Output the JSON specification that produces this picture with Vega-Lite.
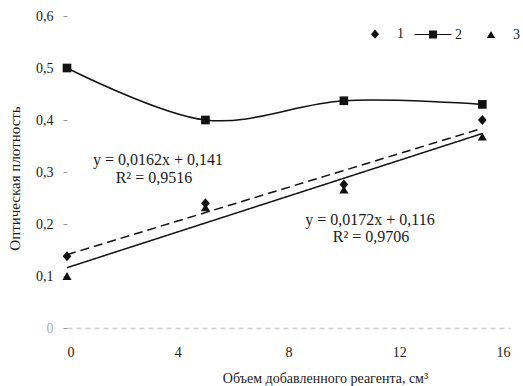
{
  "$schema": "https://vega.github.io/schema/vega-lite/v6.json",
  "width": 443,
  "height": 312,
  "autosize": "none",
  "padding": {"left": 67, "top": 16, "right": 13, "bottom": 58},
  "background": "white",
  "config": {
    "view": {"stroke": null},
    "font": "'Liberation Serif', 'Times New Roman', serif",
    "axis": {"labelFont": "'Liberation Serif', 'Times New Roman', serif", "titleFont": "'Liberation Serif', 'Times New Roman', serif", "grid": false},
    "legend": {"labelFont": "'Liberation Serif', 'Times New Roman', serif"},
    "text": {"font": "'Liberation Serif', 'Times New Roman', serif"}
  },
  "datasets": {
    "pts": [
      {"x": 0, "y": 0.138, "s": "1"},
      {"x": 5, "y": 0.24, "s": "1"},
      {"x": 10, "y": 0.276, "s": "1"},
      {"x": 15, "y": 0.40, "s": "1"},
      {"x": 0, "y": 0.5, "s": "2"},
      {"x": 5, "y": 0.40, "s": "2"},
      {"x": 10, "y": 0.437, "s": "2"},
      {"x": 15, "y": 0.43, "s": "2"},
      {"x": 0, "y": 0.1, "s": "3"},
      {"x": 5, "y": 0.232, "s": "3"},
      {"x": 10, "y": 0.266, "s": "3"},
      {"x": 15, "y": 0.368, "s": "3"}
    ],
    "fits": [
      {"x": 0, "y": 0.141, "fit": "1"},
      {"x": 15, "y": 0.384, "fit": "1"},
      {"x": 0, "y": 0.116, "fit": "3"},
      {"x": 15, "y": 0.374, "fit": "3"}
    ],
    "notes": [
      {"x": 3.29, "y": 0.323, "label": "y = 0,0162x + 0,141"},
      {"x": 3.14, "y": 0.288, "label": "R² = 0,9516"},
      {"x": 10.94, "y": 0.2077, "label": "y = 0,0172x + 0,116"},
      {"x": 10.98, "y": 0.175, "label": "R² = 0,9706"}
    ]
  },
  "encoding": {
    "x": {
      "field": "x", "type": "quantitative",
      "scale": {"domain": [0, 16], "nice": false, "zero": false},
      "axis": {
        "values": [0, 4, 8, 12, 16],
        "domain": true, "domainColor": "#cfcfcf", "domainDash": [5, 4], "domainWidth": 1.5,
        "ticks": false, "labelPadding": 17, "labelFontSize": 14, "labelColor": "#1a1a1a",
        "title": "Объем добавленного реагента, см³", "titleFontSize": 14, "titleFontWeight": "normal",
        "titleColor": "#1a1a1a", "titleX": 258, "titleY": 54, "titleBaseline": "alphabetic", "titleAlign": "center"
      }
    },
    "y": {
      "field": "y", "type": "quantitative",
      "scale": {"domain": [0, 0.6], "nice": false},
      "axis": {
        "values": [0, 0.1, 0.2, 0.3, 0.4, 0.5, 0.6],
        "domain": false, "ticks": true, "tickSize": 4, "tickColor": "#999",
        "labelPadding": 10, "labelFontSize": 14,
        "labelColor": {"condition": {"test": "datum.value == 0", "value": "#b0b0b0"}, "value": "#1a1a1a"},
        "labelExpr": "datum.value == 0 ? '0' : replace(format(datum.value, '.1f'), '.', ',')",
        "title": "Оптическая плотность", "titleFontSize": 15, "titleFontWeight": "normal", "titleColor": "#1a1a1a",
        "titleX": -53, "titleY": 162, "titleAngle": -90, "titleAlign": "center", "titleBaseline": "middle"
      }
    }
  },
  "layer": [
    {
      "data": {"name": "fits"},
      "mark": {"type": "line", "color": "#111", "strokeWidth": 1.5},
      "encoding": {
        "detail": {"field": "fit", "type": "nominal"},
        "strokeDash": {"field": "fit", "type": "nominal", "scale": {"domain": ["1", "3"], "range": [[9, 5], [1, 0]]}, "legend": null}
      }
    },
    {
      "data": {"name": "pts"},
      "transform": [{"filter": "datum.s == '2'"}],
      "mark": {"type": "line", "color": "#111", "strokeWidth": 1.5, "interpolate": "cardinal"},
      "encoding": {}
    },
    {
      "data": {"name": "pts"},
      "transform": [{"filter": "datum.s == '2'"}],
      "mark": {"type": "point", "filled": true, "color": "#111", "opacity": 1, "size": 75, "shape": "square"},
      "encoding": {}
    },
    {
      "data": {"name": "pts"},
      "transform": [{"filter": "datum.s != '2'"}],
      "mark": {"type": "point", "filled": true, "color": "#111", "opacity": 1, "size": 75},
      "encoding": {
        "shape": {
          "field": "s", "type": "nominal",
          "scale": {"domain": ["1", "2", "3"], "range": ["M-4.6,0M4.6,0M-1,0L0,-1.15L1,0L0,1.15Z", "M-4.6,-0.14H4.6V0.14H-4.6Z M-1,-1H1V1H-1Z", "M-4.6,0M4.6,0M0,-0.9L-1.05,0.9L1.05,0.9Z"]},
          "legend": {
            "orient": "none", "legendX": 301, "legendY": 11, "direction": "horizontal",
            "title": null, "symbolSize": 64, "symbolFillColor": "#111", "symbolStrokeColor": "#111",
            "labelFontSize": 14, "labelColor": "#1a1a1a", "labelOffset": 15, "columnPadding": 7, "padding": 0
          }
        }
      }
    },
    {
      "data": {"name": "notes"},
      "mark": {"type": "text", "fontSize": 16, "color": "#1a1a1a", "align": "center", "baseline": "middle"},
      "encoding": {"text": {"field": "label", "type": "nominal"}}
    }
  ]
}
